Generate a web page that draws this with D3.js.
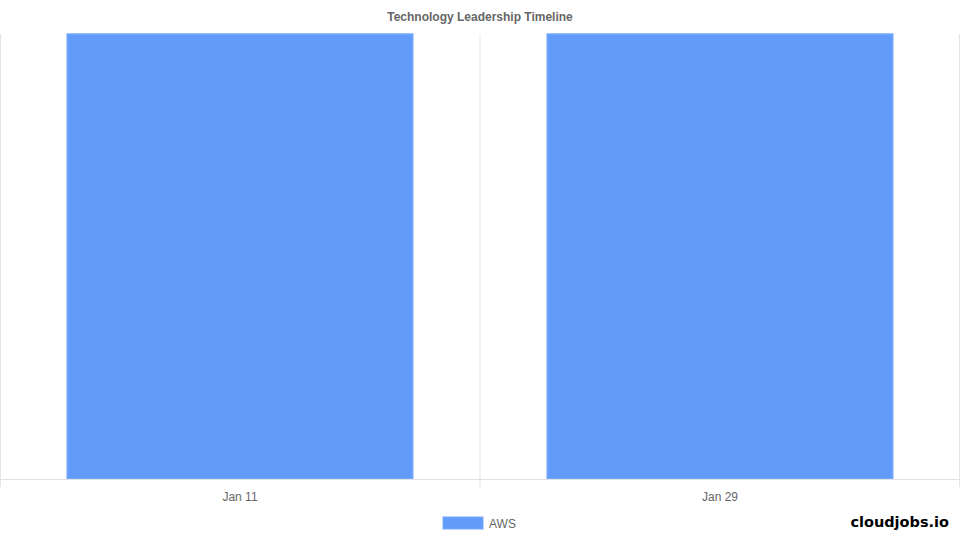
<!DOCTYPE html>
<html>
<head>
<meta charset="utf-8">
<script src="https://cdn.jsdelivr.net/npm/d3@7"></script>
<style>
  body { margin: 0; background: #fff; }
  svg { display: block; font-family: "Liberation Sans", Arial, sans-serif; }
</style>
</head>
<body>
<div id="chart"></div>
<script>
// data
const dates = ['Jan 11', 'Jan 29'];
const awsValues = [1, 1];
const seriesName = 'AWS';

const width = 960;
const height = 540;
const margins = { top: 34, right: 0, bottom: 61, left: 0 };

const svg = d3.select('#chart')
    .append('svg')
    .attr('width', width)
    .attr('height', height);

const plotW = width - margins.left - margins.right;
const plotH = height - margins.top - margins.bottom;

const plotArea = svg.append('g')
    .attr('transform', `translate(${margins.left},${margins.top})`);

// Scales
const x = d3.scaleBand()
    .domain(dates)
    .range([0, plotW]);

const y = d3.scaleLinear()
    .domain([0, d3.max(awsValues)])
    .range([plotH, 0]);

// Vertical gridlines at category boundaries
const gridX = [0, x.bandwidth(), plotW].map(v => Math.min(Math.max(v, 0.5), plotW - 0.5));
plotArea.selectAll('.grid')
    .data(gridX)
    .enter()
    .append('line')
    .attr('class', 'grid')
    .attr('x1', d => d)
    .attr('x2', d => d)
    .attr('y1', 0)
    .attr('y2', plotH + 8)
    .style('stroke', '#e5e5e5')
    .style('stroke-width', 1);

// Bars
const barPad = x.bandwidth() * 0.14;
plotArea.selectAll('.bar')
    .data(awsValues)
    .enter()
    .append('rect')
    .attr('class', 'bar')
    .attr('x', (d, i) => x(dates[i]) + barPad)
    .attr('width', x.bandwidth() - barPad * 2)
    .attr('y', d => y(d))
    .attr('height', d => plotH - y(d))
    .style('fill', '#639bfa')
    .style('stroke', '#77a9fc')
    .style('stroke-width', 1.5);

// X axis
const xAxis = plotArea.append('g')
    .attr('class', 'x-axis')
    .attr('transform', `translate(0,${plotH})`)
    .call(d3.axisBottom(x).tickSize(0).tickPadding(13));

xAxis.select('.domain').remove();
plotArea.append('line')
    .attr('x1', 0)
    .attr('x2', plotW)
    .attr('y1', plotH + 0.5)
    .attr('y2', plotH + 0.5)
    .style('stroke', '#e1e1e1');

xAxis.selectAll('text')
    .style('font-size', '12px')
    .style('font-family', '"Liberation Sans", Arial, sans-serif')
    .style('fill', '#666');

// Title
svg.append('text')
    .attr('x', width / 2)
    .attr('y', 21)
    .attr('text-anchor', 'middle')
    .style('font-size', '12px')
    .style('font-weight', 'bold')
    .style('fill', '#666')
    .text('Technology Leadership Timeline');

// Legend
const legend = svg.append('g')
    .attr('transform', 'translate(443,517)');

legend.append('rect')
    .attr('width', 40)
    .attr('height', 12)
    .style('fill', '#639bfa')
    .style('stroke', '#77a9fc')
    .style('stroke-width', 1);

legend.append('text')
    .attr('x', 46)
    .attr('y', 10.5)
    .style('font-size', '12px')
    .style('fill', '#666')
    .text(seriesName);

// Watermark
svg.append('text')
    .attr('x', 949)
    .attr('y', 527)
    .attr('text-anchor', 'end')
    .style('font-family', '"DejaVu Sans", Verdana, sans-serif')
    .style('font-size', '14.5px')
    .style('font-weight', 'bold')
    .style('fill', '#000')
    .text('cloudjobs.io');
</script>
</body>
</html>
